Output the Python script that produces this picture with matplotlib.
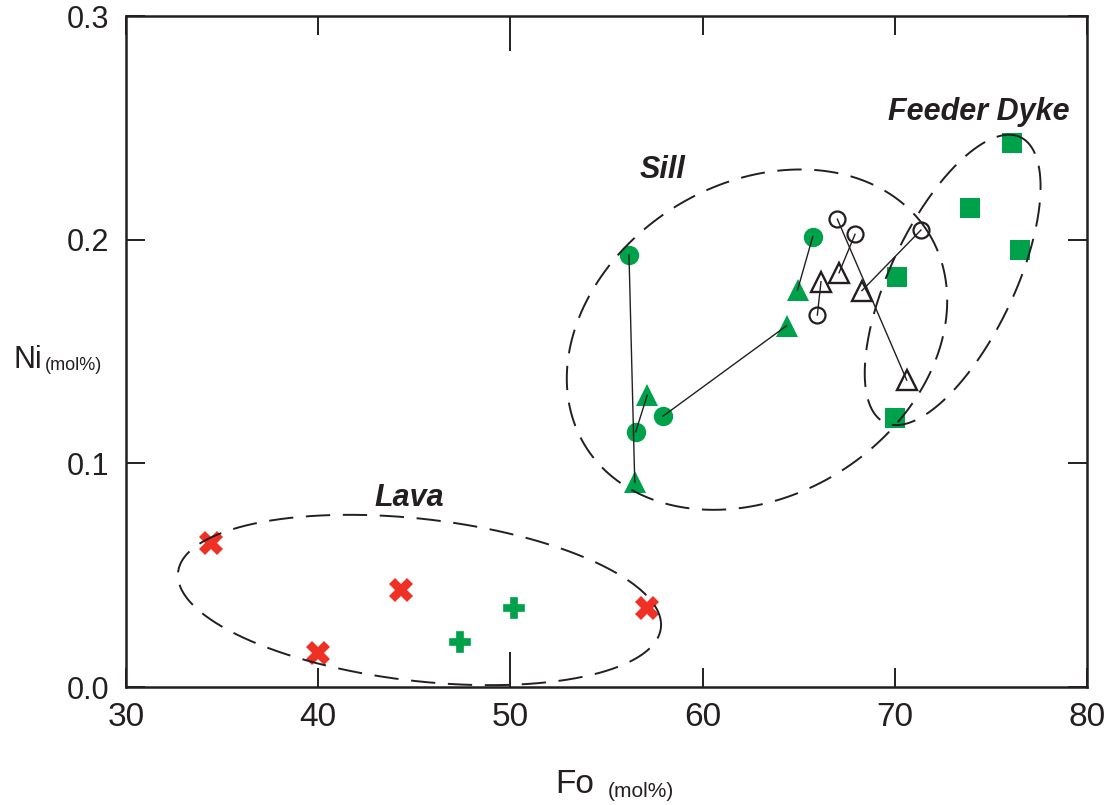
import numpy as np
import matplotlib
matplotlib.use("Agg")
import matplotlib.pyplot as plt

# ---- data -------------------------------------------------------------
# Lava
lava_x_fo = [34.42, 40.00, 44.31, 57.11]
lava_x_ni = [0.0642, 0.0151, 0.0432, 0.0353]
lava_p_fo = [47.38, 50.17]
lava_p_ni = [0.0200, 0.0352]

# Sill, filled symbols (circle i tied to triangle i)
sill_fc_fo = [56.17, 56.52, 57.94, 65.73]
sill_fc_ni = [0.1931, 0.1141, 0.1211, 0.2013]
sill_ft_fo = [56.47, 57.12, 64.37, 64.94]
sill_ft_ni = [0.0915, 0.1305, 0.1615, 0.1775]

# Sill, open symbols (circle i tied to triangle i)
sill_oc_fo = [65.97, 67.93, 67.01, 71.36]
sill_oc_ni = [0.1663, 0.2024, 0.2092, 0.2043]
sill_ot_fo = [66.16, 67.10, 70.62, 68.29]
sill_ot_ni = [0.1812, 0.1852, 0.1372, 0.1772]

# Feeder dyke
dyke_fo = [76.08, 73.91, 76.51, 70.10, 69.99]
dyke_ni = [0.2433, 0.2143, 0.1953, 0.1834, 0.1201]

x_ticks = [30, 40, 50, 60, 70, 80]
y_ticks = [0.0, 0.1, 0.2, 0.3]
y_tick_labels = ["0.0", "0.1", "0.2", "0.3"]

# ---- style ------------------------------------------------------------
GREEN = "#00A14B"
RED = "#EE3124"
INK = "#231F20"

W, H = 1110, 805
fig = plt.figure(figsize=(W / 100, H / 100), dpi=100)
ax = fig.add_axes([126 / W, 1 - 687 / H, (1087 - 126) / W, (687 - 16) / H])
ax.set_xlim(30, 80)
ax.set_ylim(0, 0.3)

for s in ax.spines.values():
    s.set_linewidth(1.8)
    s.set_color(INK)

ax.set_xticks(x_ticks)
ax.set_yticks(y_ticks)
ax.set_yticklabels(y_tick_labels)
ax.tick_params(which="major", direction="in", length=13.5, width=1.4, color=INK,
               top=True, right=True, labeltop=False, labelright=False)
ax.tick_params(axis="x", pad=11)
ax.tick_params(axis="y", pad=12)
for lab in ax.get_yticklabels():
    lab.set_fontfamily(["Liberation Sans", "DejaVu Sans"])
    lab.set_fontsize(22)
    lab.set_color(INK)
for lab in ax.get_xticklabels():
    lab.set_fontfamily(["Liberation Sans Narrow", "Liberation Sans", "DejaVu Sans"])
    lab.set_fontsize(24)
    lab.set_color(INK)
# the 50 tick is drawn longer on both the top and bottom axes
t50 = ax.xaxis.get_major_ticks()[2]
t50.tick1line.set_markersize(25)
t50.tick2line.set_markersize(25)

# ---- tie lines --------------------------------------------------------
for cx, cy, tx, ty in zip(sill_fc_fo, sill_fc_ni, sill_ft_fo, sill_ft_ni):
    ax.plot([cx, tx], [cy, ty], color=INK, lw=1.0, zorder=4)
for cx, cy, tx, ty in zip(sill_oc_fo, sill_oc_ni, sill_ot_fo, sill_ot_ni):
    ax.plot([cx, tx], [cy, ty], color=INK, lw=1.0, zorder=4)

# ---- symbols ----------------------------------------------------------
ax.plot(lava_x_fo, lava_x_ni, ls="none", marker="X", ms=17, color=RED, mew=0, zorder=3)
ax.plot(lava_p_fo, lava_p_ni, ls="none", marker="P", ms=15, color=GREEN,
        mec=GREEN, mew=1.2, zorder=3)
ax.plot(sill_fc_fo, sill_fc_ni, ls="none", marker="o", ms=14, color=GREEN, mew=0, zorder=3)
ax.plot(sill_ft_fo, sill_ft_ni, ls="none", marker="^", ms=16.5, color=GREEN, mew=0, zorder=3)
ax.plot(sill_oc_fo, sill_oc_ni, ls="none", marker="o", ms=11.5, mfc="none", mec=INK, mew=1.6, zorder=3)
ax.plot(sill_ot_fo, sill_ot_ni, ls="none", marker="^", ms=14.5, mfc="none", mec=INK, mew=1.7, zorder=3)
ax.plot(dyke_fo, dyke_ni, ls="none", marker="s", ms=14, color=GREEN, mew=0, zorder=3)


# ---- dashed group outlines (shape given in screen pixels) -------------
def outline(cx, cy, a, b, ang):
    c = ax.transData.transform((cx, cy))
    t = np.linspace(0, 2 * np.pi, 400)
    th = np.deg2rad(ang)
    px = c[0] + a * np.cos(t) * np.cos(th) - b * np.sin(t) * np.sin(th)
    py = c[1] + a * np.cos(t) * np.sin(th) + b * np.sin(t) * np.cos(th)
    d = ax.transData.inverted().transform(np.column_stack([px, py]))
    ax.plot(d[:, 0], d[:, 1], color=INK, lw=1.4, ls=(0, (12.5, 6.5)), zorder=5)


outline(45.27, 0.0389, 243, 81, -6.6)    # lava
outline(62.83, 0.1553, 202, 156, 32)     # sill
outline(73.01, 0.1820, 158, 62, 64.6)    # feeder dyke

# ---- group names ------------------------------------------------------
lab_kw = dict(fontsize=22, fontweight="bold", fontstyle="italic", color=INK,
              ha="center", va="center", family=["Liberation Sans", "DejaVu Sans"])
fig.text(409 / W, 1 - 498 / H, "Lava", **lab_kw)
fig.text(663 / W, 1 - 170 / H, "Sill", **lab_kw)
fig.text(979 / W, 1 - 112 / H, "Feeder Dyke", **lab_kw)

# ---- axis titles ------------------------------------------------------
fig.text(42 / W, 1 - 368 / H, "Ni", fontsize=22, color=INK, ha="right", va="baseline",
         family=["Liberation Sans", "DejaVu Sans"])
fig.text(45 / W, 1 - 370 / H, "(mol%)", fontsize=13, color=INK, ha="left", va="baseline",
         family=["Liberation Sans", "DejaVu Sans"])
fig.text(594 / W, 1 - 793 / H, "Fo", fontsize=24, color=INK, ha="right", va="baseline",
         family=["Liberation Sans Narrow", "Liberation Sans", "DejaVu Sans"])
fig.text(608 / W, 1 - 797 / H, "(mol%)", fontsize=15, color=INK, ha="left", va="baseline",
         family=["Liberation Sans", "DejaVu Sans"])

fig.savefig("out.png", dpi=100)
